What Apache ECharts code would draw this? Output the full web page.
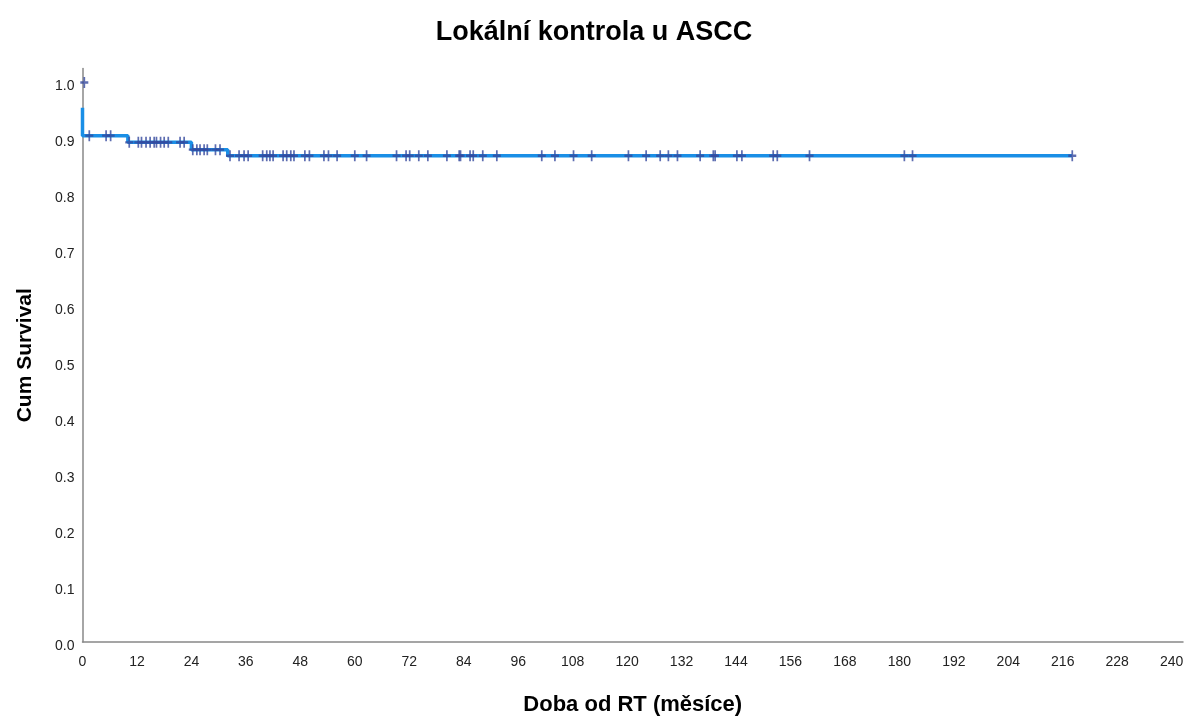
<!DOCTYPE html>
<html>
<head>
<meta charset="utf-8">
<script src="https://cdn.jsdelivr.net/npm/echarts@6/dist/echarts.min.js"></script>
<style>
html,body{margin:0;padding:0;background:#fff;}
#chart{width:1188px;height:718px;}
</style>
</head>
<body>
<div id="chart"></div>
<script>
// Kaplan-Meier step data (months, cumulative survival)
const stepTimes = [0, 0, 10, 24, 32, 218];
const stepSurvival = [0.955, 0.905, 0.893, 0.880, 0.869, 0.869];

// Censored observations (months)
const censorTimes = [
  1.5, 5.2, 6.2,
  10.3, 12.3, 13.0, 14.0, 14.9, 15.8, 16.3, 17.2, 18.0, 18.9, 21.5, 22.4,
  24.3, 25.2, 25.9, 26.8, 27.5, 29.3, 30.3,
  32.5, 34.5, 35.6, 36.5, 39.7, 40.6, 41.3, 42.0, 44.2, 45.0, 45.9, 46.6,
  49.0, 50.0, 53.2, 54.2, 56.1, 60.0, 62.6, 69.2, 71.3, 72.1, 74.1, 76.1,
  80.3, 83.0, 83.3, 85.4, 86.1, 88.2, 91.3, 101.2, 104.1, 108.2, 112.2,
  120.3, 124.2, 127.3, 129.1, 131.1, 136.1, 139.0, 139.4, 144.2, 145.3,
  152.2, 153.1, 160.2, 181.1, 182.9, 218.1
];
// censored at start
const startCensor = [[0.4, 1.0]];

const xTickLabels = ['0','12','24','36','48','60','72','84','96','108','120','132','144','156','168','180','192','204','216','228','240'];
const yTickLabels = ['0.0','0.1','0.2','0.3','0.4','0.5','0.6','0.7','0.8','0.9','1.0'];

const title = 'Lokální kontrola u ASCC';
const xName = 'Doba od RT (měsíce)';
const yName = 'Cum Survival';

function levelAt(t) {
  let v = stepSurvival[0];
  for (let i = 1; i < stepTimes.length; i++) {
    if (stepTimes[i] <= t) v = stepSurvival[i];
  }
  return v;
}

const lineData = stepTimes.map((t, i) => [t, stepSurvival[i]]);
const censorData = censorTimes.map(t => [t, levelAt(t)]).concat(startCensor);

const plusPath = 'path://M4,0L4,11M0,5.5L8,5.5';
const FONT = '"Liberation Sans", Arial, sans-serif';

const chart = echarts.init(document.getElementById('chart'));
chart.setOption({
  backgroundColor: '#fff',
  animation: false,
  title: {
    text: title,
    left: 'center',
    top: 14,
    textStyle: {fontFamily: FONT, fontSize: 27, fontWeight: 'bold', color: '#000'}
  },
  grid: {left: 82.5, right: 5, top: 68.5, bottom: 76, containLabel: false, outerBoundsMode: 'none'},
  xAxis: {
    type: 'value',
    min: 0, max: 242.5, interval: 12,
    name: xName,
    nameLocation: 'middle',
    nameGap: 52,
    nameTextStyle: {fontFamily: FONT, fontSize: 22, fontWeight: 'bold', color: '#000'},
    splitLine: {show: false},
    axisTick: {show: false},
    axisLine: {lineStyle: {color: '#888', width: 1.5}},
    axisLabel: {
      fontFamily: FONT, fontSize: 14, color: '#222', margin: 13,
      formatter: v => {
        const idx = Math.round(v / 12);
        return Math.abs(v - idx * 12) < 1e-6 && xTickLabels[idx] !== undefined ? xTickLabels[idx] : '';
      }
    }
  },
  yAxis: {
    type: 'value',
    min: 0, max: 1.025, interval: 0.1,
    name: yName,
    nameLocation: 'middle',
    nameGap: 47,
    nameTextStyle: {fontFamily: FONT, fontSize: 21, fontWeight: 'bold', color: '#000'},
    splitLine: {show: false},
    axisTick: {show: false},
    axisLine: {show: true, lineStyle: {color: '#888', width: 1.5}},
    axisLabel: {
      fontFamily: FONT, fontSize: 14, color: '#222', margin: 8,
      verticalAlign: 'top',
      lineHeight: 8,
      formatter: v => {
        const idx = Math.round(v * 10);
        return Math.abs(v * 10 - idx) < 1e-6 && yTickLabels[idx] !== undefined ? yTickLabels[idx] : '';
      }
    }
  },
  series: [
    {
      type: 'line',
      step: 'end',
      data: lineData,
      symbol: 'none',
      lineStyle: {color: '#1a8fe6', width: 3.5},
      z: 2
    },
    {
      type: 'scatter',
      data: censorData,
      symbol: plusPath,
      symbolSize: [8, 11],
      itemStyle: {color: 'rgba(0,0,0,0)', borderColor: '#34499e', borderWidth: 2},
      z: 3
    }
  ]
});
</script>
</body>
</html>
